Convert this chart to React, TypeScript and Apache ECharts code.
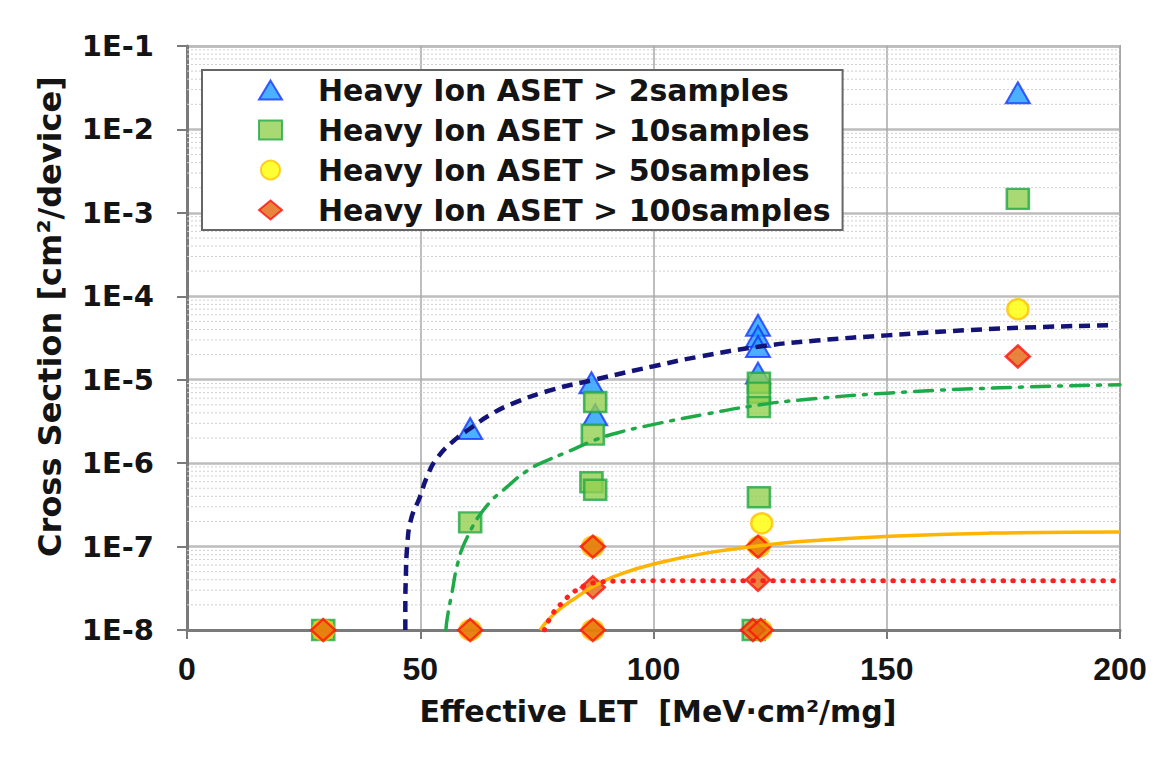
import React, { useEffect, useRef } from "react";
import * as echarts from "echarts";

// ---- data ----
const LEGEND_NAMES = [
  "Heavy Ion ASET > 2samples",
  "Heavy Ion ASET > 10samples",
  "Heavy Ion ASET > 50samples",
  "Heavy Ion ASET > 100samples",
];

// [Effective LET, Cross Section]
const TRIANGLES: [number, number][] = [
  [60.7, 2.6e-6],
  [86.7, 9.2e-6],
  [87.5, 3.8e-6],
  [122.4, 1.2e-5],
  [122.4, 4.5e-5],
  [122.4, 3.3e-5],
  [122.4, 2.5e-5],
  [178.1, 2.75e-2],
];

const SQUARES: [number, number][] = [
  [29.2, 1e-8],
  [60.7, 1.95e-7],
  [87.5, 5.4e-6],
  [87.0, 2.2e-6],
  [86.7, 5.9e-7],
  [87.5, 4.8e-7],
  [122.6, 9.2e-6],
  [122.6, 7.0e-6],
  [122.6, 4.7e-6],
  [122.6, 3.9e-7],
  [121.5, 1e-8],
  [178.1, 1.47e-3],
];

const CIRCLES: [number, number][] = [
  [29.2, 1e-8],
  [60.7, 1e-8],
  [87.0, 1e-8],
  [87.0, 1e-7],
  [123.0, 1e-8],
  [122.6, 1e-7],
  [123.2, 1.9e-7],
  [178.1, 7.0e-5],
];

const DIAMONDS: [number, number][] = [
  [29.2, 1e-8],
  [60.7, 1e-8],
  [87.0, 1e-8],
  [87.0, 1e-7],
  [87.0, 3.25e-8],
  [122.4, 1e-7],
  [122.4, 4.0e-8],
  [121.3, 1e-8],
  [123.0, 1e-8],
  [178.1, 1.9e-5],
];

// fitted curves, points
const FIT_2: [number, number][] = [
  [46.8, 1e-8], [46.8, 2e-8], [46.9, 4e-8], [47.2, 1e-7], [48.0, 2.1e-7], [49.9, 3.9e-7],
  [51.5, 7e-7], [53.6, 1.15e-6], [57.4, 1.9e-6], [60.7, 2.6e-6], [65.0, 3.8e-6], [69.9, 5.2e-6],
  [78.0, 7.5e-6], [87.0, 9.9e-6], [100.0, 1.45e-5], [110.0, 1.9e-5], [122.8, 2.5e-5],
  [135.0, 2.95e-5], [150.0, 3.4e-5], [174.3, 4.1e-5], [198.9, 4.5e-5],
];

const FIT_10: [number, number][] = [
  [55.5, 1e-8], [55.8, 1.4e-8], [56.8, 2.8e-8], [58.1, 6.5e-8], [60.0, 1.27e-7],
  [63.9, 2.9e-7], [68.6, 5.2e-7], [73.5, 8.5e-7], [77.4, 1.09e-6], [81.5, 1.36e-6],
  [87.0, 1.85e-6], [92.2, 2.3e-6], [98.6, 2.8e-6], [111.5, 3.9e-6], [122.8, 5.0e-6],
  [131.4, 5.7e-6], [150.0, 6.9e-6], [174.3, 8.0e-6], [200.0, 8.7e-6],
];

const FIT_50: [number, number][] = [
  [75.7, 1e-8], [77.4, 1.32e-8], [80.0, 1.8e-8], [82.7, 2.3e-8], [87.0, 3.3e-8],
  [93.5, 4.8e-8], [100.7, 6.3e-8], [111.5, 8.4e-8], [122.8, 1.02e-7], [131.4, 1.15e-7],
  [150.7, 1.33e-7], [172.1, 1.45e-7], [200.0, 1.5e-7],
];

const FIT_100: [number, number][] = [
  [76.6, 1e-8], [78.5, 1.6e-8], [80.6, 2.17e-8], [82.7, 2.8e-8], [85.3, 3.4e-8],
  [88.5, 3.75e-8], [93.0, 3.85e-8], [110.0, 3.9e-8], [198.9, 3.9e-8],
];

const X_MIN = 0;
const X_MAX = 200;
const X_STEP = 50;
const Y_MIN = 1e-8;
const Y_MAX = 1e-1;
const DECADE_EXPONENTS = [-8, -7, -6, -5, -4, -3, -2];
const MINOR_MULTIPLES = [2, 3, 4, 5, 6, 7, 8, 9];

const BOLD_WIDE = "DejaVu Sans";

export default function App() {
  const ref = useRef<HTMLDivElement>(null);

  useEffect(() => {
    if (!ref.current) return;
    const chart = echarts.init(ref.current, undefined, { renderer: "svg" });

    // minor log grid lines (2..9 x 10^n), drawn as broken line segments
    const minorGrid: any[] = [];
    DECADE_EXPONENTS.forEach((e) => {
      MINOR_MULTIPLES.forEach((m) => {
        const v = m * Math.pow(10, e);
        minorGrid.push([X_MIN, v], [X_MAX, v], [X_MIN, "-"]);
      });
    });

    const scatterBase = {
      type: "scatter" as const,
      clip: false,
      z: 3,
      emphasis: { disabled: true },
    };

    const lineBase = {
      type: "line" as const,
      showSymbol: false,
      symbol: "none",
      smooth: 0.5,
      z: 4,
      silent: true,
      emphasis: { disabled: true },
    };

    const option: any = {
      animation: false,
      backgroundColor: "#ffffff",
      grid: {
        left: 187,
        right: 42,
        top: 46,
        bottom: 130,
        show: true,
        borderColor: "#a3a3a3",
        borderWidth: 2,
        backgroundColor: "transparent",
        containLabel: false,
        outerBoundsMode: "none",
      },
      legend: {
        data: LEGEND_NAMES,
        orient: "vertical",
        align: "left",
        left: 202,
        top: 70,
        padding: [5, 12, 5, 56],
        itemWidth: 23,
        itemHeight: 19,
        itemGap: 10,
        backgroundColor: "#ffffff",
        borderColor: "#666666",
        borderWidth: 2,
        borderRadius: 0,
        selectedMode: false,
        textStyle: {
          fontFamily: BOLD_WIDE,
          fontWeight: "bold",
          fontSize: 30,
          lineHeight: 30,
          color: "#141414",
          padding: [0, 0, 0, 31],
        },
      },
      xAxis: {
        type: "value",
        min: X_MIN,
        max: X_MAX,
        interval: X_STEP,
        name: "Effective LET  [MeV·cm²/mg]",
        nameLocation: "middle",
        nameGap: 66,
        nameTextStyle: {
          fontFamily: BOLD_WIDE,
          fontWeight: "bold",
          fontSize: 30,
          color: "#141414",
          padding: [0, 0, 0, 9],
        },
        axisLine: { show: true, onZero: false, lineStyle: { color: "#7a7a7a", width: 3 } },
        axisTick: { show: true, inside: false, length: 9, lineStyle: { color: "#7a7a7a", width: 2 } },
        axisLabel: {
          margin: 23,
          fontFamily: "Liberation Sans",
          fontWeight: "bold",
          fontSize: 32,
          color: "#141414",
        },
        splitLine: { show: true, lineStyle: { color: "#a8a8a8", width: 1.5 } },
      },
      yAxis: {
        type: "log",
        logBase: 10,
        min: Y_MIN,
        max: Y_MAX,
        splitNumber: 7,
        name: "Cross Section [cm²/device]",
        nameLocation: "middle",
        nameGap: 121,
        nameTextStyle: {
          fontFamily: BOLD_WIDE,
          fontWeight: "bold",
          fontSize: 32,
          color: "#141414",
          padding: [0, 0, 0, 43],
        },
        axisLine: { show: true, lineStyle: { color: "#7a7a7a", width: 3 } },
        axisTick: { show: true, inside: false, length: 10, lineStyle: { color: "#7a7a7a", width: 2 } },
        axisLabel: {
          margin: 33,
          fontFamily: BOLD_WIDE,
          fontWeight: "bold",
          fontSize: 29,
          color: "#141414",
          formatter: (v: number) => "1E" + Math.round(Math.log10(v)),
        },
        splitLine: { show: true, lineStyle: { color: "#bdbdbd", width: 2.5 } },
        minorTick: { show: false },
      },
      series: [
        {
          type: "line",
          name: "minor-grid",
          data: minorGrid,
          z: 1,
          silent: true,
          showSymbol: false,
          symbol: "none",
          connectNulls: false,
          emphasis: { disabled: true },
          lineStyle: { color: "#cfcfcf", width: 1, type: [2, 2] },
        },
        {
          ...scatterBase,
          name: LEGEND_NAMES[0],
          symbol: "triangle",
          symbolSize: [24, 21],
          itemStyle: { color: "#1e9cff", borderColor: "#1636ff", borderWidth: 2 },
          data: TRIANGLES,
        },
        {
          ...scatterBase,
          name: LEGEND_NAMES[1],
          symbol: "rect",
          symbolSize: [22, 20],
          itemStyle: { color: "#92d050", borderColor: "#20a844", borderWidth: 2.5 },
          data: SQUARES,
        },
        {
          ...scatterBase,
          name: LEGEND_NAMES[2],
          symbol: "circle",
          symbolSize: [21, 20],
          itemStyle: { color: "#ffff00", borderColor: "#ffc000", borderWidth: 2.5 },
          data: CIRCLES,
        },
        {
          ...scatterBase,
          name: LEGEND_NAMES[3],
          symbol: "diamond",
          symbolSize: [24, 22],
          itemStyle: { color: "#e2650c", borderColor: "#ff1010", borderWidth: 2.5 },
          data: DIAMONDS,
        },
        {
          ...lineBase,
          data: FIT_2,
          lineStyle: { color: "#141478", width: 4.5, type: [11, 7], cap: "butt" },
        },
        {
          ...lineBase,
          data: FIT_10,
          lineStyle: { color: "#1faa4a", width: 3.5, type: [18, 9, 3, 9], cap: "round" },
        },
        {
          ...lineBase,
          data: FIT_50,
          lineStyle: { color: "#ffb400", width: 3.5 },
        },
        {
          ...lineBase,
          data: FIT_100,
          lineStyle: { color: "#ff2020", width: 5, type: [0.5, 9.5], cap: "round" },
        },
      ],
    };

    chart.setOption(option);
    return () => chart.dispose();
  }, []);

  return (
    <div
      ref={ref}
      style={{ position: "fixed", left: 0, top: 0, width: 1162, height: 760, background: "#ffffff" }}
    />
  );
}
